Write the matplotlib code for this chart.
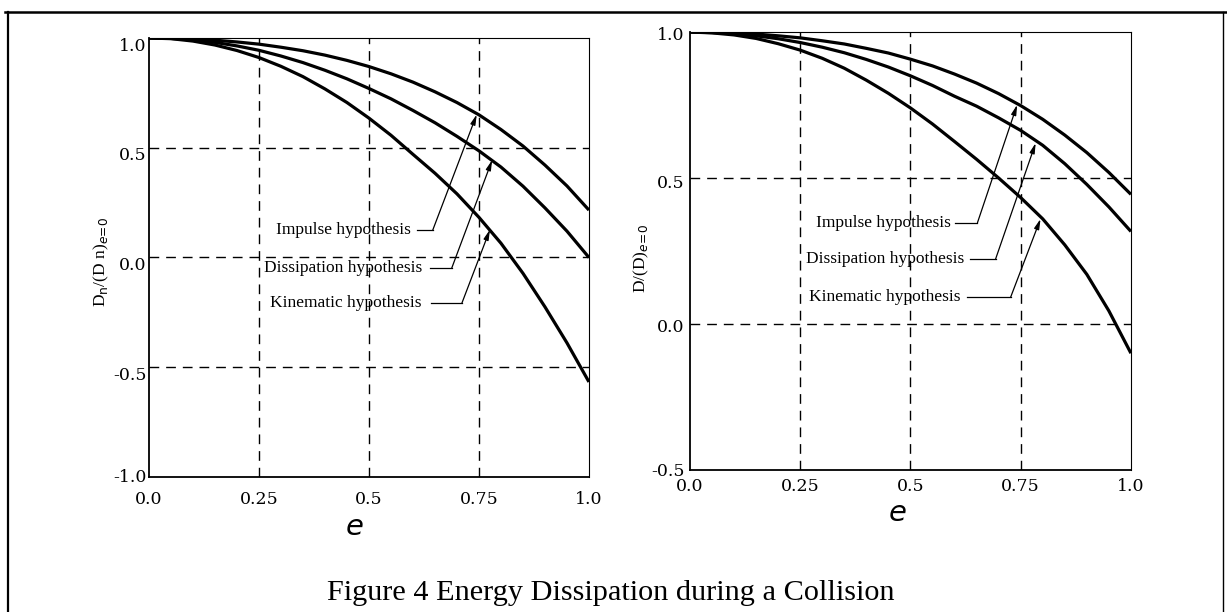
import matplotlib
matplotlib.use("Agg")
import matplotlib.pyplot as plt
from matplotlib.lines import Line2D
from matplotlib.transforms import ScaledTranslation

# restitution coefficient e
e_vals = [0.0, 0.05, 0.1, 0.15, 0.2, 0.25, 0.3, 0.35, 0.4, 0.45, 0.5,
          0.55, 0.6, 0.65, 0.7, 0.75, 0.8, 0.85, 0.9, 0.95, 1.0]

# left panel: Dn/(Dn)e=0
impulse_n = [1.0, 0.999, 0.996, 0.990, 0.982, 0.972, 0.958, 0.942, 0.922, 0.898, 0.87,
             0.837, 0.799, 0.755, 0.706, 0.650, 0.583, 0.508, 0.421, 0.326, 0.216]
dissip_n = [1.0, 0.998, 0.991, 0.980, 0.964, 0.944, 0.918, 0.888, 0.853, 0.814, 0.77,
            0.723, 0.67, 0.614, 0.552, 0.486, 0.412, 0.325, 0.226, 0.12, 0.0]
kinem_n = [1.0, 0.997, 0.986, 0.968, 0.943, 0.911, 0.871, 0.824, 0.768, 0.706, 0.635,
           0.557, 0.47, 0.384, 0.29, 0.183, 0.065, -0.072, -0.225, -0.389, -0.567]

# right panel: D/(D)e=0
impulse_d = [1.0, 0.999, 0.997, 0.993, 0.987, 0.980, 0.970, 0.959, 0.944, 0.928, 0.907,
             0.884, 0.856, 0.825, 0.789, 0.748, 0.701, 0.647, 0.587, 0.519, 0.444]
dissip_d = [1.0, 0.998, 0.994, 0.987, 0.977, 0.964, 0.948, 0.929, 0.906, 0.88, 0.85,
            0.817, 0.78, 0.746, 0.706, 0.663, 0.612, 0.549, 0.478, 0.401, 0.317]
kinem_d = [1.0, 0.997, 0.99, 0.978, 0.96, 0.938, 0.91, 0.876, 0.835, 0.79, 0.74,
           0.685, 0.625, 0.564, 0.50, 0.433, 0.36, 0.271, 0.17, 0.045, -0.10]

labels = ["Impulse hypothesis", "Dissipation hypothesis", "Kinematic hypothesis"]

xticks = [0.0, 0.25, 0.5, 0.75, 1.0]
xtick_labels = ["0.0", "0.25", "0.5", "0.75", "1.0"]
yticks_n = [-1.0, -0.5, 0.0, 0.5, 1.0]
yticks_d = [-0.5, 0.0, 0.5, 1.0]

# annotation geometry: (text right edge x, text y, line start x, bend x, tip x, tip y)
notes_n = [(0.595, 0.125, 0.61, 0.645, 0.745, 0.652),
           (0.62, -0.049, 0.639, 0.688, 0.78, 0.444),
           (0.62, -0.209, 0.642, 0.711, 0.775, 0.127)]
notes_d = [(0.591, 0.347, 0.602, 0.652, 0.742, 0.751),
           (0.621, 0.222, 0.636, 0.693, 0.784, 0.62),
           (0.614, 0.091, 0.629, 0.727, 0.795, 0.36)]

fig = plt.figure(figsize=(12.27, 6.12), dpi=100)
fig.patch.set_facecolor("white")

tick_font = dict(family=["DejaVu Serif", "Liberation Serif"], size=12.5)
note_font = dict(family="Liberation Serif", size=12.5)


def panel(rect, series, yticks, ylim, notes, ydown_px, ypad, xpad):
    ax = fig.add_axes(rect)
    for ys in series:
        ax.plot(e_vals, ys, color="black", lw=2.3, solid_capstyle="butt")
    ax.set_xlim(0, 1)
    ax.set_ylim(*ylim)
    ax.set_xticks(xticks)
    ax.set_xticklabels(xtick_labels, **tick_font)
    ax.set_yticks(yticks)
    ax.set_yticklabels(["%.1f" % v for v in yticks], **tick_font)
    ax.tick_params(axis="both", length=0)
    ax.tick_params(axis="y", pad=ypad)
    ax.tick_params(axis="x", pad=xpad)
    for lab, dy in zip(ax.get_yticklabels(), ydown_px):
        lab.set_transform(lab.get_transform() + ScaledTranslation(0, -dy / 100, fig.dpi_scale_trans))
    for v in xticks[1:-1]:
        ax.axvline(v, color="black", lw=1.0, dashes=(7, 5))
    for v in yticks[1:-1]:
        ax.axhline(v, color="black", lw=1.0, dashes=(7, 5))
    ax.spines["left"].set_linewidth(1.3)
    ax.spines["bottom"].set_linewidth(1.3)
    ax.spines["top"].set_linewidth(0.8)
    ax.spines["right"].set_linewidth(0.8)

    for lab, (tx, ty, lx, bx, px, py) in zip(labels, notes):
        ax.text(tx, ty, lab, ha="right", va="center", **note_font)
        ax.plot([lx, bx], [ty, ty], color="black", lw=0.9)
        ax.annotate("", xy=(px, py), xytext=(bx, ty),
                    arrowprops=dict(arrowstyle="-|>,head_length=0.6,head_width=0.15",
                                    color="black", lw=0.9, shrinkA=0, shrinkB=0))
    return ax


ax1 = panel([0.1214, 0.2206, 0.3586, 0.7173], [impulse_n, dissip_n, kinem_n],
            yticks_n, (-1.0, 1.0), notes_n, [-1, 6, 6, 6, 6], 1.5, 10)
ax2 = panel([0.5623, 0.2320, 0.3594, 0.7157], [impulse_d, dissip_d, kinem_d],
            yticks_d, (-0.5, 1.0), notes_d, [-1, 1, 3, 1], 4, 6)

# axis titles
fig.text(0.083, 0.572, r"D$_{\rm n}$/(D n)$_{e\!=\!0}$", rotation=90, ha="center", va="center",
         family="Liberation Serif", size=12.5)
fig.text(0.523, 0.578, r"D/(D)$_{e\!=\!0}$", rotation=90, ha="center", va="center",
         family="Liberation Serif", size=12.5)
fig.text(0.2893, 0.1389, "e", style="italic", ha="center", va="center", family="DejaVu Sans", size=21)
fig.text(0.7319, 0.1618, "e", style="italic", ha="center", va="center", family="DejaVu Sans", size=21)

fig.text(0.498, 0.0196, "Figure 4 Energy Dissipation during a Collision", ha="center",
         va="baseline", family="Liberation Serif", size=21.8)

# outer frame of the scanned page
fig.add_artist(Line2D([0.004, 1.0], [0.980, 0.980], transform=fig.transFigure, color="black", lw=1.8))
fig.add_artist(Line2D([0.0065, 0.0065], [0.0, 0.980], transform=fig.transFigure, color="black", lw=1.6))
fig.add_artist(Line2D([0.9967, 0.9967], [0.0, 0.980], transform=fig.transFigure, color="black", lw=1.0))

fig.savefig("out.png", dpi=100)
